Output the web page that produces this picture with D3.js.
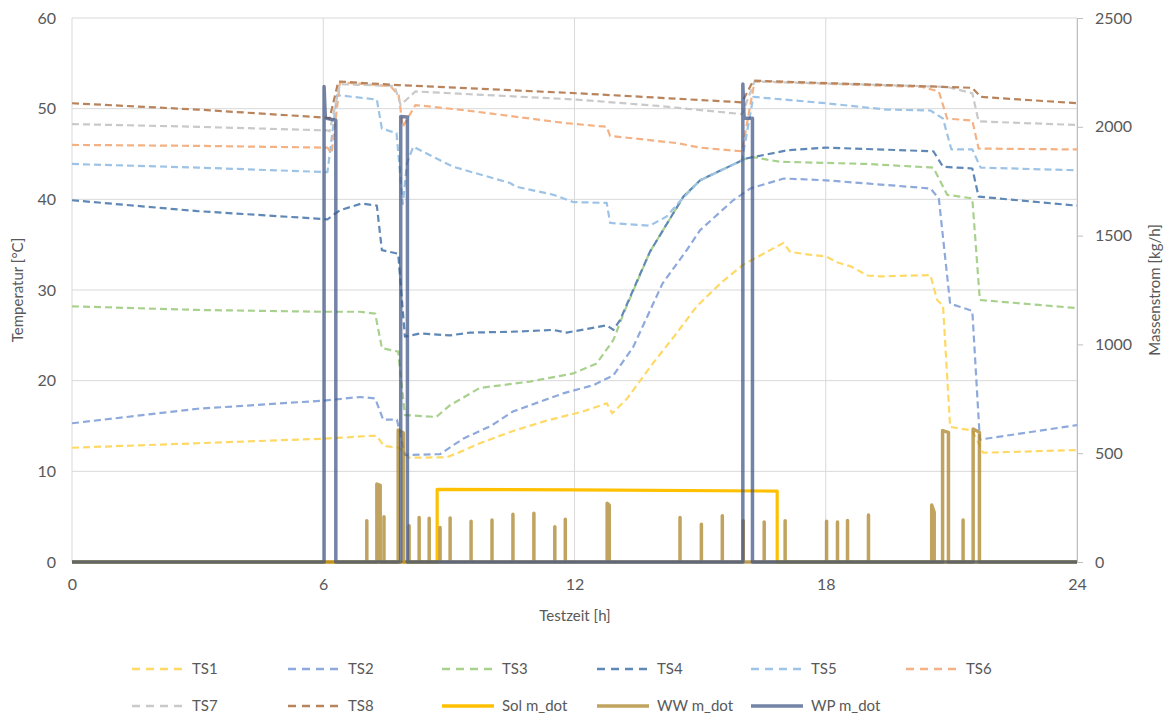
<!DOCTYPE html>
<html><head><meta charset="utf-8">
<script src="https://cdn.jsdelivr.net/npm/d3@7"></script>
<style>
html,body{margin:0;padding:0;background:#fff;}
svg{display:block;font-family:Lato,"Open Sans",sans-serif;}
</style></head>
<body><svg id="c" width="1172" height="720"></svg>
<script>
// ---------- DATA ----------
const xTicks = [0, 6, 12, 18, 24];
const yLeftTicks = [0, 10, 20, 30, 40, 50, 60];
const yRightTicks = [0, 500, 1000, 1500, 2000, 2500];

const ts1 = [[0,12.6],[3,13.1],[6,13.6],[7.1,13.9],[7.28,13.9],[7.45,12.8],[7.8,12.6],[8.05,11.5],[8.95,11.55],[9.3,12.2],[9.74,13.1],[10.5,14.4],[11.34,15.6],[12.2,16.6],[12.77,17.5],[12.9,16.4],[13.25,18.0],[13.87,21.9],[14.4,25.0],[14.92,28.2],[15.5,30.8],[16.03,32.8],[16.67,34.4],[16.99,35.2],[17.15,34.2],[17.6,33.9],[18.0,33.7],[18.3,33.0],[18.6,32.6],[19.0,31.6],[19.3,31.5],[20.5,31.65],[20.66,28.9],[20.8,28.3],[20.97,14.9],[21.5,14.5],[21.76,12.05],[24,12.35]];
const ts2 = [[0,15.3],[3,16.9],[6,17.8],[6.88,18.2],[7.24,18.05],[7.43,15.7],[7.76,15.7],[7.95,11.8],[8.79,11.9],[9.34,13.6],[10.0,15.0],[10.53,16.6],[11.73,18.6],[12.45,19.5],[12.93,20.6],[13.4,23.7],[14.1,30.7],[14.68,34.4],[15.0,36.6],[15.79,39.9],[16.2,41.2],[17.0,42.3],[18.0,42.1],[20.5,41.2],[20.7,40.1],[20.97,28.5],[21.5,27.7],[21.68,13.5],[24,15.1]];
const ts3 = [[0,28.2],[3,27.8],[6,27.6],[6.88,27.6],[7.24,27.4],[7.4,23.6],[7.79,23.2],[7.95,16.2],[8.7,16.0],[9.03,17.3],[9.74,19.2],[10.94,19.9],[11.97,20.8],[12.53,21.9],[12.93,24.5],[13.17,27.4],[13.8,34.2],[14.6,40.3],[15.0,42.1],[16.0,44.3],[16.2,44.7],[16.9,44.15],[18.98,43.9],[20.57,43.5],[20.9,40.5],[21.5,40.1],[21.68,28.9],[24,28.0]];
const ts4 = [[0,39.9],[3,38.7],[6.1,37.8],[6.4,38.8],[6.92,39.55],[7.28,39.3],[7.4,34.4],[7.79,34.0],[7.95,24.85],[8.31,25.2],[9.03,25.0],[9.5,25.3],[10.53,25.4],[11.49,25.6],[11.81,25.3],[12.77,26.1],[12.93,25.6],[13.09,26.7],[13.4,30.0],[13.8,34.2],[14.6,40.3],[15.0,42.1],[16.0,44.3],[16.1,44.5],[17.07,45.4],[18.0,45.7],[20.57,45.3],[20.8,43.6],[21.5,43.4],[21.65,40.3],[24,39.3]];
const ts5 = [[0,43.9],[3,43.5],[6.1,43.0],[6.33,51.5],[7.28,51.0],[7.4,47.8],[7.75,47.3],[7.9,39.5],[8.0,44.0],[8.15,45.8],[8.79,44.3],[9.1,43.6],[10.46,41.8],[10.6,41.4],[11.5,40.5],[11.97,39.7],[12.77,39.6],[12.85,37.4],[13.8,37.1],[14.2,38.1],[14.52,39.8],[15.0,42.1],[16.0,44.3],[16.27,51.3],[18.0,50.6],[19.45,49.9],[20.5,49.8],[20.8,48.9],[21.0,45.5],[21.5,45.5],[21.7,43.5],[24,43.2]];
const ts6 = [[0,46.0],[3,45.9],[6.1,45.7],[6.2,45.1],[6.4,52.9],[7.6,52.5],[7.8,51.5],[7.9,48.0],[8.2,50.4],[9.43,49.8],[11.8,48.4],[12.77,48.0],[12.85,47.0],[14.45,46.2],[15.0,45.7],[16.0,45.3],[16.3,53.0],[20.3,52.4],[20.7,51.9],[20.9,48.9],[21.5,48.7],[21.65,45.6],[24,45.5]];
const ts7 = [[0,48.3],[3,48.0],[6.1,47.6],[6.15,47.5],[6.4,52.7],[7.7,52.5],[7.85,50.4],[8.2,51.9],[12.06,51.0],[14.0,50.3],[16.0,49.4],[16.3,53.0],[20.9,52.4],[21.5,51.7],[21.65,48.6],[24,48.2]];
const ts8 = [[0,50.6],[3,49.9],[6.1,49.0],[6.15,48.9],[6.36,53.0],[7.8,52.6],[12.06,51.7],[16.0,50.7],[16.27,53.1],[17.5,52.9],[21.5,52.3],[21.7,51.3],[24,50.6]];

const solMdot = [[0,0],[8.72,0],[8.72,334],[12,331],[16.84,326],[16.84,0],[24,0]];
// WW pulses: [start h, end h, flow at start, flow at end]
const wwPulses = [[7.04,7.04,190,190],[7.28,7.36,358,352],[7.45,7.45,208,208],[7.79,7.91,607,594],[8.05,8.05,167,167],[8.29,8.29,204,204],[8.53,8.53,201,201],[8.79,8.79,158,158],[9.03,9.03,202,202],[9.53,9.53,187,187],[10.03,10.03,193,193],[10.53,10.53,219,219],[11.03,11.03,224,224],[11.53,11.53,162,162],[11.78,11.78,196,196],[12.78,12.83,270,261],[14.52,14.52,205,205],[15.03,15.03,173,173],[15.53,15.53,213,213],[16.03,16.03,190,190],[16.53,16.53,184,184],[17.03,17.03,190,190],[18.02,18.02,187,187],[18.28,18.28,184,184],[18.52,18.52,191,191],[19.02,19.02,216,216],[20.53,20.59,262,228],[20.79,20.93,604,596],[21.28,21.28,193,193],[21.52,21.67,611,596]];
const wpMdot = [[0,0],[6.02,0],[6.02,2185],[6.05,2040],[6.3,2030],[6.3,0],[7.85,0],[7.85,2047],[8.01,2045],[8.01,0],[16.02,0],[16.02,2197],[16.05,2040],[16.25,2039],[16.25,0],[24,0]];

const tsNames = ["TS1","TS2","TS3","TS4","TS5","TS6","TS7","TS8"];
const tsData = [ts1, ts2, ts3, ts4, ts5, ts6, ts7, ts8];
const tsColors = ["#FFD966","#8EA9DB","#A9D18E","#5F88B6","#9DC3E6","#F4B183","#C9C9C9","#B9845C"];

// ---------- CHART ----------
const svg = d3.select("#c");
const x = d3.scaleLinear().domain([0,24]).range([72,1077]);
const yL = d3.scaleLinear().domain([0,60]).range([562,18]);
const yR = d3.scaleLinear().domain([0,2500]).range([562,18]);
const txt = "#595959", grid = "#D9D9D9";

// gridlines
svg.append("g").selectAll("line").data(yLeftTicks).join("line")
  .attr("x1", x(0)).attr("x2", x(24)).attr("y1", d=>yL(d)).attr("y2", d=>yL(d))
  .attr("stroke", grid).attr("stroke-width", 1);
svg.append("g").selectAll("line").data(xTicks).join("line")
  .attr("x1", d=>x(d)).attr("x2", d=>x(d)).attr("y1", yL(0)).attr("y2", yL(60))
  .attr("stroke", grid).attr("stroke-width", 1);

// axes
const gl = svg.append("g").attr("transform", `translate(${x(0)},0)`)
  .call(d3.axisLeft(yL).tickValues(yLeftTicks).tickFormat(d3.format("d")).tickSize(0).tickPadding(16));
const gr = svg.append("g").attr("transform", `translate(${x(24)},0)`)
  .call(d3.axisRight(yR).tickValues(yRightTicks).tickFormat(d3.format("d")).tickSize(6).tickPadding(12));
const gb = svg.append("g").attr("transform", `translate(0,${yL(0)})`)
  .call(d3.axisBottom(x).tickValues(xTicks).tickFormat(d3.format("d")).tickSize(0).tickPadding(17));
[gl, gr, gb].forEach(g => {
  g.selectAll("text").attr("fill", txt).style("font-size", "16px").style("font-family", "Lato, sans-serif");
});
gl.select(".domain").remove();
gb.select(".domain").attr("stroke", grid);
gr.select(".domain").attr("stroke", "#BFBFBF");
gr.selectAll(".tick line").attr("stroke", "#BFBFBF");

// titles
svg.append("text").attr("transform", "translate(23,290) rotate(-90)")
  .attr("text-anchor","middle").attr("fill",txt).style("font-size","15px").text("Temperatur [°C]");
svg.append("text").attr("transform", "translate(1160,290) rotate(-90)")
  .attr("text-anchor","middle").attr("fill",txt).style("font-size","15px").text("Massenstrom [kg/h]");
svg.append("text").attr("x", 575).attr("y", 621)
  .attr("text-anchor","middle").attr("fill",txt).style("font-size","15px").text("Testzeit [h]");

// temperature lines
const lineL = d3.line().x(d=>x(d[0])).y(d=>yL(d[1]));
const lineR = d3.line().x(d=>x(d[0])).y(d=>yR(d[1]));
tsData.forEach((s,i) => {
  svg.append("path").datum(s).attr("d", lineL).attr("fill","none")
    .attr("stroke", tsColors[i]).attr("stroke-width", 2.2)
    .attr("stroke-dasharray", "7,4").attr("stroke-linejoin","round");
});

// flow lines
const wwPts = [[0,0]];
wwPulses.forEach(p => { wwPts.push([p[0],0],[p[0],p[2]],[p[1],p[3]],[p[1],0]); });
wwPts.push([24,0]);

const solColor = "#FFC000", wwColor = "#AB8428", wpColor = "#3F5584";
svg.append("path").datum(solMdot).attr("d", lineR).attr("fill","none")
  .attr("stroke", solColor).attr("stroke-width", 3.2).attr("stroke-linejoin","round");
svg.append("path").datum(wwPts).attr("d", lineR).attr("fill","none")
  .attr("stroke", wwColor).attr("stroke-opacity", 0.75).attr("stroke-width", 3.5).attr("stroke-linejoin","round");
svg.append("path").datum(wpMdot).attr("d", lineR).attr("fill","none")
  .attr("stroke", wpColor).attr("stroke-opacity", 0.72).attr("stroke-width", 3.5).attr("stroke-linejoin","round");

// legend
const legendItems = [
  ...tsNames.map((n,i)=>({name:n, color:tsColors[i], dash:true, op:1})),
  {name:"Sol m_dot", color:solColor, dash:false, op:1},
  {name:"WW m_dot", color:wwColor, dash:false, op:0.75},
  {name:"WP m_dot", color:wpColor, dash:false, op:0.72}
];
const colX = [132, 288, 442, 597, 751, 906];
const rowY = [669, 706];
const lg = svg.append("g");
legendItems.forEach((it, i) => {
  const cx = colX[i % 6], cy = rowY[Math.floor(i / 6)];
  lg.append("line").attr("x1", cx).attr("x2", cx + 52).attr("y1", cy).attr("y2", cy)
    .attr("stroke", it.color).attr("stroke-opacity", it.op)
    .attr("stroke-width", it.dash ? 2.4 : 3.5)
    .attr("stroke-dasharray", it.dash ? "8,6" : null);
  lg.append("text").attr("x", cx + 60).attr("y", cy).attr("dy", "0.35em")
    .attr("fill", txt).style("font-size", "15px").text(it.name);
});
</script></body></html>
